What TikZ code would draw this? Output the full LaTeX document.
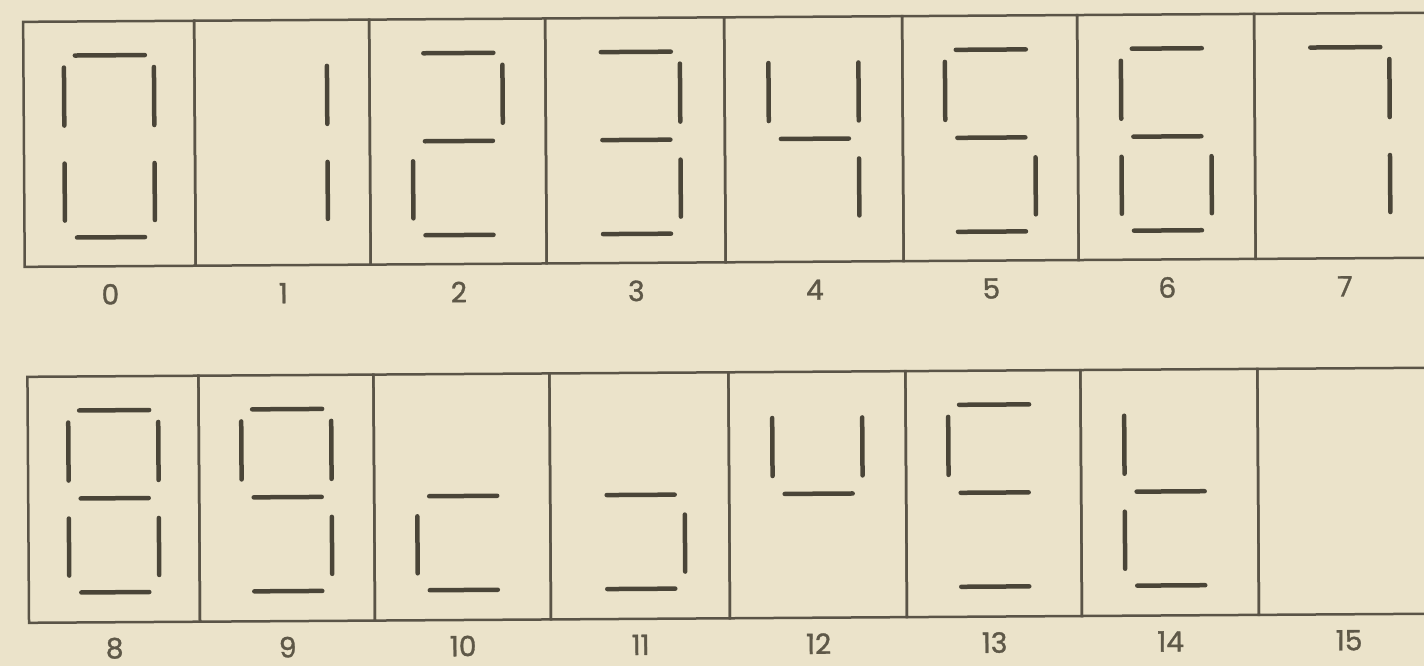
\documentclass[tikz,border=0pt]{standalone}
\usepackage{fontspec}
\setmainfont{Poppins}
\newfontfamily\labfont{Poppins}[FakeBold=1.2]
\definecolor{paper}{HTML}{EBE3CA}
\definecolor{ink}{HTML}{4A4538}
\definecolor{frame}{HTML}{5A5447}
\definecolor{lab}{HTML}{5E5848}
\tikzset{
  seg/.style={line width=4.5pt, line cap=round, draw=ink},
  cell/.style={draw=frame, line width=2.5pt, inner sep=0pt, outer sep=0pt, anchor=north, minimum height=245pt},
  lbl/.style={font=\labfont\fontsize{28}{28}\selectfont, text=lab, inner sep=0pt},
  sga/.style={insert path={(-34,34) -- (36,34)}},
  sgb/.style={insert path={(45,46) -- (45,104)}},
  sgc/.style={insert path={(45,142) -- (45,199)}},
  sgd/.style={insert path={(-33,216) -- (35,216)}},
  sge/.style={insert path={(-45,142) -- (-45,199)}},
  sgf/.style={insert path={(-45,46) -- (-45,104)}},
  sgg/.style={insert path={(-33,122) -- (35,122)}},
}
\newcommand\showdigit[3]{%
  \begin{scope}[shift={(#1,#2)}]
    \foreach \s in {#3}{\draw[seg, sg\s];}
  \end{scope}}
\begin{document}
\begin{tikzpicture}[x=1pt,y=-1pt]
\fill[paper] (0,0) rectangle (1424,666);
\useasboundingbox (0,0) rectangle (1424,666);
\begin{scope}[rotate=0.37, transform shape]
  % top row cells and labels
  \foreach \n/\a/\b in {0/23/194,1/194/369,2/369/545,3/545/724,4/724/902,5/902/1077,6/1077/1254,7/1254/1440}{
    \node[cell, minimum width={\b-\a}] (c\n) at ({(\a+\b)/2},22) {};
  }
  \foreach \n/\x in {0/108.5,1/281.5,2/457,3/634.5,4/813,5/989.5,6/1165.5,7/1343}{
    \node[lbl] (l\n) at (\x,295) {\n};
  }
  % bottom row cells and labels
  \foreach \n/\a/\b in {8/25/196,9/196/371,10/371/547,11/547/726,12/726/903,13/903/1078,14/1078/1255,15/1255/1440}{
    \node[cell, minimum width={\b-\a}, minimum height=246pt] (c\n) at ({(\a+\b)/2},377) {};
  }
  \foreach \n/\x in {8/110.5,9/283.5,10/459,11/636.5,12/814.5,13/990.5,14/1166.5,15/1345}{
    \node[lbl] (l\n) at (\x,649) {\n};
  }
  % digits
  \showdigit{108.5}{22}{a,b,c,d,e,f}
  \showdigit{281.5}{22}{b,c}
  \showdigit{457}{22}{a,b,g,e,d}
  \showdigit{634.5}{22}{a,b,g,c,d}
  \showdigit{813}{22}{f,g,b,c}
  \showdigit{989.5}{22}{a,f,g,c,d}
  \showdigit{1165.5}{22}{a,f,g,e,c,d}
  \showdigit{1344}{22}{a,b,c}
  \showdigit{110.5}{377}{a,b,c,d,e,f,g}
  \showdigit{283.5}{377}{a,b,c,d,f,g}
  \showdigit{459}{377}{g,e,d}
  \showdigit{636.5}{377}{g,c,d}
  \showdigit{814.5}{377}{f,b,g}
  \showdigit{990.5}{377}{a,f,g,d}
  \showdigit{1166.5}{377}{f,g,e,d}
\end{scope}
\end{tikzpicture}
\end{document}
